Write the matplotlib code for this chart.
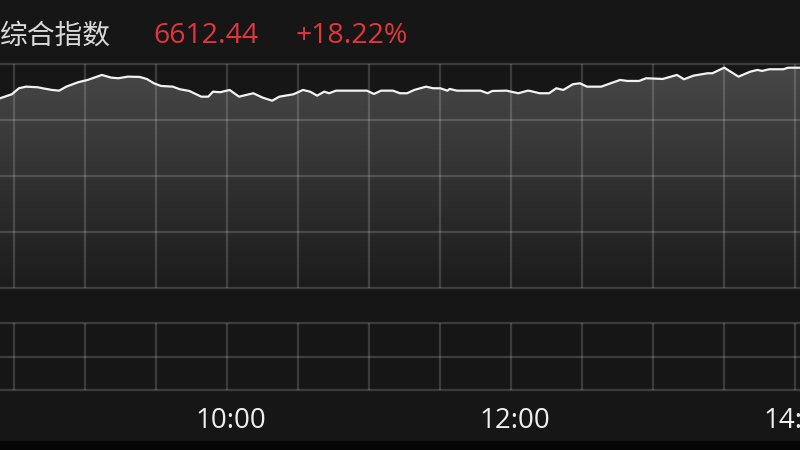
import numpy as np
import matplotlib.pyplot as plt
from matplotlib.patches import PathPatch, Rectangle
from matplotlib.colors import LinearSegmentedColormap
from matplotlib.transforms import ScaledTranslation

# intraday index data
name = "综合指数"
prev_close = 5593.4
times = ["08:24", "08:29", "08:32", "08:35", "08:40", "08:42", "08:46", "08:49", "08:52", "08:57",
         "09:01", "09:05", "09:07", "09:11", "09:14", "09:18", "09:23", "09:26", "09:29", "09:32",
         "09:37", "09:40", "09:44", "09:49", "09:52", "09:54", "09:57", "10:01", "10:05", "10:11",
         "10:15", "10:19", "10:22", "10:28", "10:32", "10:35", "10:38", "10:41", "10:43", "10:46",
         "10:59", "11:02", "11:05", "11:10", "11:13", "11:16", "11:19", "11:24", "11:27", "11:30",
         "11:33", "11:34", "11:37", "11:47", "11:50", "11:52", "11:58", "12:03", "12:07", "12:08",
         "12:12", "12:16", "12:19", "12:22", "12:26", "12:29", "12:32", "12:38", "12:42", "12:46",
         "12:49", "12:54", "12:57", "13:04", "13:07", "13:10", "13:13", "13:17", "13:23", "13:25",
         "13:30", "13:36", "13:41", "13:44", "13:46", "13:49", "13:55", "13:57", "14:02"]
prices = [6471.1, 6489.6, 6517.4, 6524.8, 6522.0, 6517.4, 6509.5, 6506.3, 6524.8, 6545.2,
          6555.8, 6571.1, 6579.0, 6566.5, 6563.7, 6571.1, 6569.7, 6560.4, 6540.5, 6528.1,
          6524.8, 6512.8, 6504.9, 6478.5, 6478.5, 6501.7, 6498.9, 6509.5, 6478.5, 6494.3,
          6473.9, 6460.0, 6478.5, 6489.6, 6509.5, 6501.7, 6483.2, 6501.7, 6494.3, 6506.3,
          6506.3, 6491.0, 6506.3, 6506.3, 6494.3, 6494.3, 6509.5, 6524.8, 6517.4, 6517.4,
          6506.3, 6514.2, 6506.3, 6506.3, 6494.3, 6504.9, 6506.3, 6494.3, 6506.3, 6504.9,
          6494.3, 6494.3, 6517.4, 6509.5, 6535.9, 6540.5, 6524.8, 6524.8, 6540.5, 6555.8,
          6551.2, 6551.2, 6563.7, 6560.4, 6569.7, 6579.0, 6559.0, 6575.7, 6586.8, 6586.8,
          6612.7, 6571.1, 6594.2, 6602.1, 6597.5, 6605.3, 6605.3, 6612.44, 6612.44]
tick_labels = {"10:00": "10:00", "12:00": "12:00", "14:00": "14:00"}


def to_min(s):
    h, m = s.split(":")
    return int(h) * 60 + int(m)


t = np.array([to_min(s) for s in times])
p = np.array(prices)

bg = "#161616"
red = "#e2363c"

plt.rcParams["font.family"] = ["Open Sans", "Noto Sans CJK SC", "DejaVu Sans"]

fig = plt.figure(figsize=(8, 4.5), dpi=100, facecolor=bg)

x0, x1 = 504, 842
y0, y1 = prev_close, 6629.6
grid_x = np.arange(510, 842, 30)


def style_panel(a):
    a.tick_params(length=0, labelleft=False)
    a.grid(True, color="white", alpha=0.16, lw=1.6)
    for s in ["left", "right"]:
        a.spines[s].set_visible(False)
    for s in ["top", "bottom"]:
        a.spines[s].set_color((1, 1, 1, 0.16))
        a.spines[s].set_linewidth(1.6)


# main price panel
ax = fig.add_axes([0, 162 / 450, 1, 224 / 450], facecolor=bg)
ax.set_xlim(x0, x1)
ax.set_ylim(y0, y1)
ax.set_xticks(grid_x)
ax.set_yticks(np.linspace(y0, y1, 5)[1:-1])
style_panel(ax)
ax.tick_params(labelbottom=False)

poly = ax.fill_between(t, p, y0, color="none", lw=0)
clip = PathPatch(poly.get_paths()[0], transform=ax.transData, facecolor="none", edgecolor="none")
ax.add_patch(clip)
cmap = LinearSegmentedColormap.from_list("g", ["#1c1c1c", "#484848"])
grad = np.linspace(0, 1, 256).reshape(-1, 1)
img = ax.imshow(grad, extent=[x0, x1, y0, y1], origin="lower", aspect="auto", cmap=cmap, zorder=1)
img.set_clip_path(clip)
ax.plot(t, p, color="#f2f2f2", lw=1.6, zorder=3)

# lower (empty) panel
ax2 = fig.add_axes([0, 60 / 450, 1, 67 / 450], facecolor=bg)
ax2.set_xlim(x0, x1)
ax2.set_ylim(0, 2)
ax2.set_yticks([1])
ax2.set_xticks(grid_x)
ax2.set_xticklabels([tick_labels.get("%02d:%02d" % (m // 60, m % 60), "") for m in grid_x])
style_panel(ax2)
ax2.tick_params(labelsize=20, labelcolor="#eeeeee", pad=12)
shift = ScaledTranslation(4 / 100, 0, fig.dpi_scale_trans)
for lab in ax2.get_xticklabels():
    lab.set_transform(lab.get_transform() + shift)

# header
last = p[-1]
pct = (last / prev_close - 1) * 100
fig.text(0.0, 1 - 36 / 450, name, color="#d9d9d9", fontsize=20, va="center",
         family=["Noto Sans CJK SC", "DejaVu Sans"])
fig.text(153 / 800, 1 - 36 / 450, "%.2f" % last, color=red, fontsize=20.5, va="center")
fig.text(296 / 800, 1 - 36 / 450, "+%.2f%%" % pct, color=red, fontsize=20.5, va="center")

fig.patches.append(Rectangle((0, 0), 1, 9 / 450, transform=fig.transFigure, color="#050505", zorder=0))

fig.savefig("out.png", dpi=100, facecolor=bg)
